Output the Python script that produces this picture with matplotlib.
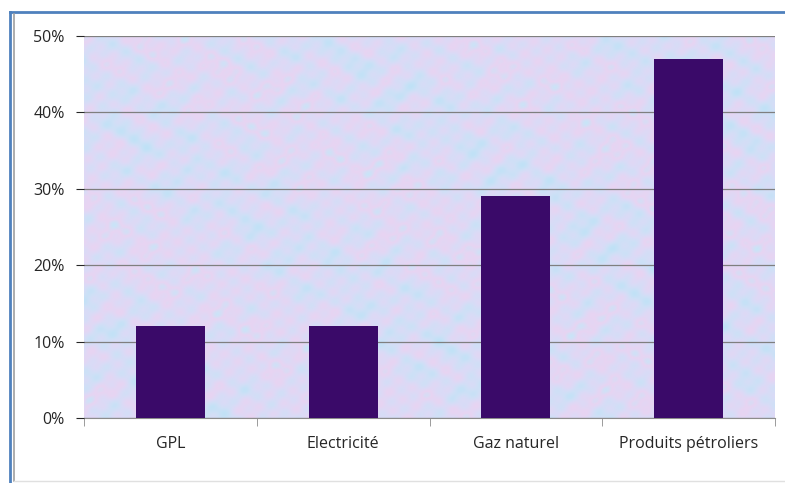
import numpy as np
import matplotlib
matplotlib.use('Agg')
import matplotlib.pyplot as plt
from matplotlib.lines import Line2D
from matplotlib.colors import LinearSegmentedColormap

plt.rcParams['font.family'] = ['Open Sans', 'DejaVu Sans']

categories = ['GPL', 'Electricité', 'Gaz naturel', 'Produits pétroliers']
values = [12, 12, 29, 47]  # %

fig = plt.figure(figsize=(7.85, 4.83), dpi=100)
W, H = 785, 483
ax = fig.add_axes([84 / W, 1 - 418 / H, (775 - 84) / W, (418 - 36) / H])

# fond "texture" bleu/rose (motif fixe, pas des données)
xx, yy = np.meshgrid(np.linspace(0, 60, 500), np.linspace(0, 34, 280))
tex = (np.sin(xx * 1.31 + 2.2 * np.cos(yy * 0.93))
       + np.cos(yy * 1.73 + 2.0 * np.sin(xx * 0.71))
       + 0.7 * np.sin(xx * 3.7 + yy * 2.9)
       + 0.6 * np.cos(xx * 2.3 - yy * 4.1)
       + 0.8 * np.sin(xx * 0.23 - yy * 0.31))
cmap = LinearSegmentedColormap.from_list(
    'tex', ['#bfe2f6', '#cfe0f7', '#dcdaf6', '#e8d4f2', '#c8e5f8'])
ax.imshow(tex, cmap=cmap, extent=(-0.5, 3.5, 0, 50), aspect='auto',
          zorder=0, interpolation='bilinear')

x = np.arange(len(categories))
ax.bar(x, values, width=0.4, color='#3a0a69', zorder=3)

ax.set_xlim(-0.5, 3.5)
ax.set_ylim(0, 50)
ax.set_yticks(range(0, 51, 10))
ax.set_yticklabels([f'{v}%' for v in range(0, 51, 10)])
ax.yaxis.grid(True, color='#7f7f7f', linewidth=0.9, zorder=1)
ax.set_axisbelow(False)

ax.set_xticks(x)
ax.set_xticklabels(categories)
ax.tick_params(axis='x', length=0, pad=13)
ax.set_xticks(np.arange(-0.5, 4, 1), minor=True)
ax.tick_params(axis='x', which='minor', length=6, color='#8c8c8c', direction='out')
ax.tick_params(axis='y', length=6, color='#8c8c8c', direction='out', pad=8)

for s in ['top', 'right', 'left']:
    ax.spines[s].set_visible(False)
ax.spines['bottom'].set_color('#8c8c8c')
ax.tick_params(colors='#262626', labelsize=11.5)

# cadre de la figure
fig.add_artist(Line2D([10 / W, 1], [1 - 12 / H, 1 - 12 / H], color='#4f81bd', lw=2))
fig.add_artist(Line2D([10 / W, 10 / W], [0, 1 - 12 / H], color='#4f81bd', lw=2))
fig.add_artist(Line2D([14 / W, 14 / W], [2 / H, 1 - 14 / H], color='#a0a0a0', lw=1.2))
fig.add_artist(Line2D([14 / W, 1], [2 / H, 2 / H], color='#e0e0e0', lw=1))

fig.savefig('out.png', dpi=100)
